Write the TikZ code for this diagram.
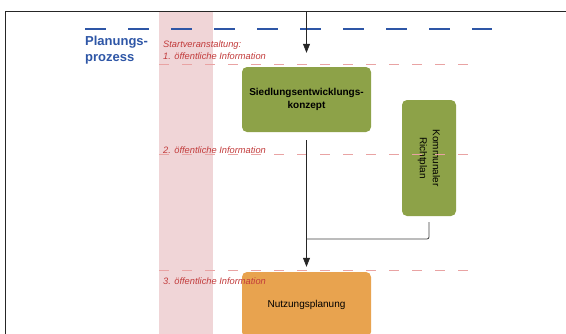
\documentclass[tikz,border=0pt]{standalone}
\usepackage{fontspec}
\setmainfont{Liberation Sans}
\usetikzlibrary{arrows.meta}
\definecolor{planblau}{HTML}{2E56A6}
\definecolor{bandrosa}{HTML}{F0D5D7}
\definecolor{inforot}{HTML}{C23B3B}
\definecolor{linierot}{HTML}{E9A3A3}
\definecolor{gruen}{HTML}{8DA248}
\definecolor{nutzorange}{HTML}{E8A34F}
\begin{document}
\begin{tikzpicture}[x=1pt,y=-1pt,
  kasten/.style={rounded corners=5pt,minimum width=129pt,minimum height=65pt,align=center,inner sep=2pt,font=\fontsize{10}{13}\selectfont},
  info/.style={text=inforot,font=\fontsize{9.3}{12}\selectfont\itshape,anchor=west,align=left,inner sep=0pt},
  pfeil/.style={-{Triangle[width=7pt,length=9pt]},line width=0.8pt,black!85}]
\useasboundingbox (0,0) rectangle (566,333);
\clip (0,0) rectangle (566,333);
\fill[bandrosa] (159,11) rectangle (213,340);
\draw[line width=0.9pt,black!85] (5.6,340)--(5.6,11)--(570,11);
\draw[planblau,line width=1.8pt,dash pattern=on 21pt off 22pt] (85,29)--(492,29);
\node[anchor=west,align=left,text=planblau,font=\fontsize{13}{16}\selectfont\bfseries,inner sep=0pt] (titel) at (85,50) {Planungs-\\prozess};
\node[kasten,fill=gruen,font=\fontsize{10}{13}\selectfont\bfseries] (sek) at (306.5,99.5) {Siedlungsentwicklungs-\\konzept};
\node[kasten,fill=gruen,minimum width=116pt,minimum height=54pt,rotate=-90] (krp) at (429,158) {Kommunaler\\Richtplan};
\node[kasten,fill=nutzorange] (nup) at (306.5,304.5) {Nutzungsplanung};
\foreach \y in {64,154,270}{\draw[linierot,line width=0.8pt,dash pattern=on 10pt off 13pt] (159,\y)--(470,\y);}
\node[info] (info1) at (163,50) {Startveranstaltung:\\1. öffentliche Information};
\node[info] (info2) at (163,150) {2. öffentliche Information};
\node[info] (info3) at (163,281) {3. öffentliche Information};
\coordinate (oben) at (306.5,11);
\coordinate (knick) at (306.5,239);
\draw[pfeil,shorten >=14pt] (oben)--(sek.north);
\draw[pfeil,shorten <=8pt,shorten >=5pt] (sek.south)--(nup.north);
\draw[line width=0.8pt,black!75,rounded corners=2pt] ([yshift=-6pt]krp.east) |- (knick);
\end{tikzpicture}
\end{document}
